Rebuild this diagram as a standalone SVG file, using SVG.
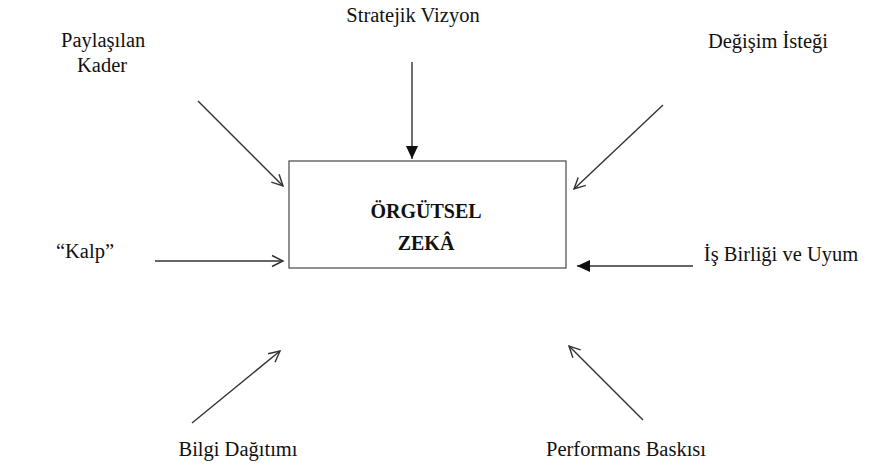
<svg xmlns="http://www.w3.org/2000/svg" width="871" height="472" viewBox="0 0 871 472">
  <style>
    .lbl { font-family: 'Liberation Serif', 'Times New Roman', serif; font-size: 20.5px; fill: #111; }
    .ttl { font-family: 'Liberation Serif', 'Times New Roman', serif; font-size: 20px; font-weight: bold; fill: #111; }
    .ln { stroke: #333; stroke-width: 1.4; fill: none; }
    .box { fill: #fff; stroke: #555; stroke-width: 1.3; }
  </style>
  <defs>
    <marker id="open" markerWidth="14" markerHeight="14" refX="12" refY="7" orient="auto" markerUnits="userSpaceOnUse">
      <path d="M1,1.5 L12,7 L1,12.5" fill="none" stroke="#333" stroke-width="1.4"/>
    </marker>
    <marker id="solid" markerWidth="14" markerHeight="14" refX="13" refY="7" orient="auto" markerUnits="userSpaceOnUse">
      <path d="M0,1 L13,7 L0,13 Z" fill="#111"/>
    </marker>
  </defs>

  <g id="connectors">
    <line class="ln" x1="198" y1="101" x2="283" y2="186" marker-end="url(#open)"/>
    <line class="ln" x1="412" y1="62" x2="412" y2="159" marker-end="url(#solid)"/>
    <line class="ln" x1="663" y1="105" x2="574" y2="189" marker-end="url(#open)"/>
    <line class="ln" x1="155" y1="261" x2="283" y2="261" marker-end="url(#open)"/>
    <line class="ln" x1="693" y1="266" x2="577" y2="266" marker-end="url(#solid)"/>
    <line class="ln" x1="192" y1="423" x2="280" y2="351" marker-end="url(#open)"/>
    <line class="ln" x1="643" y1="420" x2="569" y2="346" marker-end="url(#open)"/>
  </g>

  <g id="center">
    <rect class="box" x="289" y="161" width="277" height="107"/>
    <text class="ttl" x="426" y="218" text-anchor="middle">ÖRGÜTSEL</text>
    <text class="ttl" x="426" y="250" text-anchor="middle">ZEKÂ</text>
  </g>

  <g id="vision"><text class="lbl" x="413" y="22" text-anchor="middle">Stratejik Vizyon</text></g>
  <g id="shared-fate">
    <text class="lbl" x="61" y="47">Paylaşılan</text>
    <text class="lbl" x="77" y="72">Kader</text>
  </g>
  <g id="desire-for-change"><text class="lbl" x="768" y="48" text-anchor="middle">Değişim İsteği</text></g>
  <g id="heart"><text class="lbl" x="85" y="258" text-anchor="middle">“Kalp”</text></g>
  <g id="alignment"><text class="lbl" x="781" y="261" text-anchor="middle">İş Birliği ve Uyum</text></g>
  <g id="knowledge"><text class="lbl" x="238" y="456" text-anchor="middle">Bilgi Dağıtımı</text></g>
  <g id="performance"><text class="lbl" x="626" y="456" text-anchor="middle">Performans Baskısı</text></g>
</svg>
